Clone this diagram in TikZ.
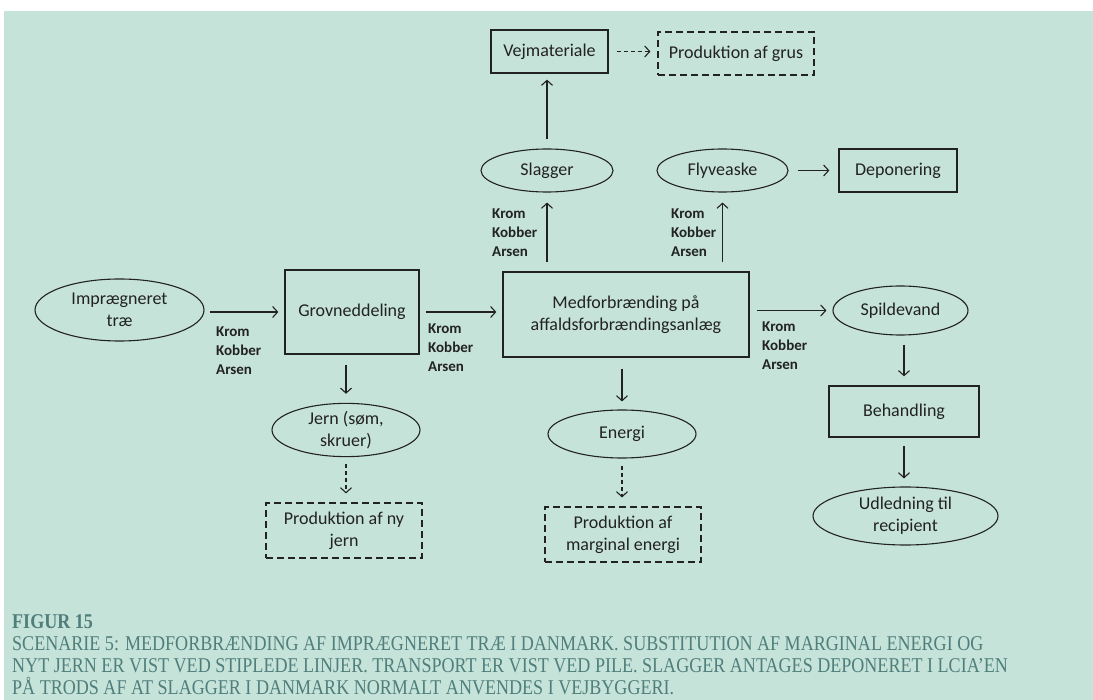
\documentclass[tikz,border=0pt]{standalone}
\usepackage{fontspec}
\setmainfont{Carlito}
\newfontfamily\capfont{Liberation Serif}[FakeStretch=0.86]
\usetikzlibrary{shapes.geometric,arrows.meta}
\definecolor{bgmint}{HTML}{C6E3D9}
\definecolor{ink}{HTML}{222222}
\definecolor{captxt}{HTML}{4F7E7B}
\begin{document}
\begin{tikzpicture}[x=1pt,y=-1pt,
  every node/.style={inner sep=0pt, text=ink, font=\fontsize{18}{22}\selectfont, align=center},
  boxnode/.style={draw=ink, line width=1.3pt, rectangle},
  ovalnode/.style={draw=ink, line width=1.1pt, ellipse},
  dashbox/.style={draw=ink, line width=1.1pt, rectangle, dash pattern=on 7pt off 4pt},
  flow/.style={draw=ink, line width=1.1pt, -{Straight Barb[length=5pt,width=11pt]}},
  subst/.style={flow, dash pattern=on 4pt off 3pt},
  metals/.style={anchor=north west, align=left, font=\bfseries\fontsize{15}{19}\selectfont}
]
% canvas
\fill[white] (0,0) rectangle (1093,700);
\fill[bgmint] (4,11) rectangle (1093,700);
\useasboundingbox (0,0) rectangle (1093,700);

% top row
\node[boxnode, minimum width=117pt, minimum height=43pt] (vej) at (549.5,51.5) {Vejmateriale};
\node[dashbox, minimum width=156pt, minimum height=43pt] (grus) at (736,53.5) {Produktion af grus};

% residues
\node[ovalnode, minimum width=132pt, minimum height=43pt] (slag) at (547,170.5) {Slagger};
\node[ovalnode, minimum width=131pt, minimum height=43pt] (fly) at (722.5,170.5) {Flyveaske};
\node[boxnode, minimum width=118pt, minimum height=43pt] (dep) at (898,170.5) {Deponering};

% main chain
\node[ovalnode, minimum width=169pt, minimum height=62pt] (imp) at (119.5,310) {Imprægneret\\træ};
\node[boxnode, minimum width=134pt, minimum height=84pt] (grov) at (352,312) {Grovneddeling};
\node[boxnode, minimum width=246pt, minimum height=85pt] (med) at (626,314.5) {Medforbrænding på\\affaldsforbrændingsanlæg};
\node[ovalnode, minimum width=135pt, minimum height=49pt] (spild) at (900.5,310.5) {Spildevand};

% lower nodes
\node[ovalnode, minimum width=148pt, minimum height=48pt] (jern) at (346,430) {Jern (søm,\\skruer)};
\node[dashbox, minimum width=156pt, minimum height=55pt] (pjern) at (344,530.5) {Produktion af ny\\jern};
\node[ovalnode, minimum width=148pt, minimum height=48pt] (energi) at (622,434) {Energi};
\node[dashbox, minimum width=156pt, minimum height=55pt] (pener) at (623,534.5) {Produktion af\\marginal energi};
\node[boxnode, minimum width=150pt, minimum height=51pt] (beh) at (904,411.5) {Behandling};
\node[ovalnode, minimum width=185pt, minimum height=58pt] (udl) at (905.5,516) {Udledning til\\recipient};

% flows
\draw[flow, shorten <=5pt, shorten >=6pt] (imp.east |- grov.west) -- (grov.west);
\draw[flow, shorten <=6pt, shorten >=6pt] (grov.east) -- (med.west |- grov.east);
\draw[flow, shorten <=7pt, shorten >=6pt] (med.east |- spild.west) -- (spild.west);
\draw[flow, shorten <=9pt, shorten >=10pt] (slag.south |- med.north) -- (slag.south);
\draw[flow, shorten <=9pt, shorten >=10pt] (fly.south |- med.north) -- (fly.south);
\draw[flow, shorten <=9pt, shorten >=9pt] (fly.east) -- (dep.west);
\draw[flow, shorten <=9pt, shorten >=6pt] (slag.north) -- (slag.north |- vej.south);
\draw[flow, shorten <=10pt, shorten >=9pt] (jern.north |- grov.south) -- (jern.north);
\draw[flow, shorten <=11pt, shorten >=8pt] (energi.north |- med.south) -- (energi.north);
\draw[flow, shorten <=9pt, shorten >=9pt] (beh.north |- spild.south) -- (beh.north);
\draw[flow, shorten <=8pt, shorten >=8pt] (beh.south) -- (beh.south |- udl.north);

% substitution
\draw[subst, shorten <=8pt, shorten >=7pt] (vej.east) -- (grus.west |- vej.east);
\draw[subst, shorten <=7pt, shorten >=9pt] (jern.south) -- (jern.south |- pjern.north);
\draw[subst, shorten <=7pt, shorten >=9pt] (energi.south) -- (energi.south |- pener.north);

% substances carried along the flows
\node[metals] (m1) at (216,327) {Krom\\Kobber\\Arsen};
\node[metals] (m2) at (428,324) {Krom\\Kobber\\Arsen};
\node[metals] (m3) at (492,209) {Krom\\Kobber\\Arsen};
\node[metals] (m4) at (671,209) {Krom\\Kobber\\Arsen};
\node[metals] (m5) at (762,322) {Krom\\Kobber\\Arsen};

% caption
\node[anchor=north west, align=left, text=captxt, font=\capfont\fontsize{21}{22}\selectfont] (cap) at (12,614)
{{\bfseries FIGUR 15}\\
SCENARIE 5: MEDFORBRÆNDING AF IMPRÆGNERET TRÆ I DANMARK. SUBSTITUTION AF MARGINAL ENERGI OG\\
NYT JERN ER VIST VED STIPLEDE LINJER. TRANSPORT ER VIST VED PILE. SLAGGER ANTAGES DEPONERET I LCIA’EN\\
PÅ TRODS AF AT SLAGGER I DANMARK NORMALT ANVENDES I VEJBYGGERI.};
\end{tikzpicture}
\end{document}
